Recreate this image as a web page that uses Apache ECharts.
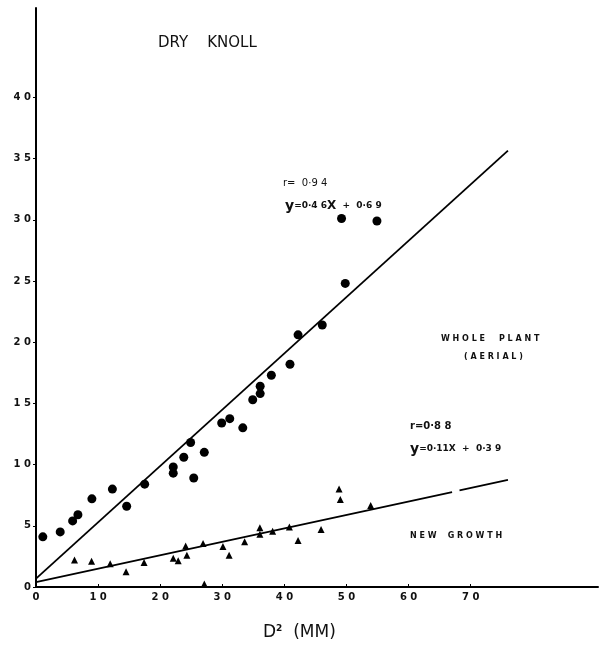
<!DOCTYPE html>
<html>
<head>
<meta charset="utf-8">
<script src="https://cdn.jsdelivr.net/npm/echarts@6/dist/echarts.min.js"></script>
<style>
  html, body { margin: 0; padding: 0; background: #fff; }
  #chart { width: 609px; height: 654px; }
</style>
</head>
<body>
<div id="chart"></div>
<script>
// Whole plant (aerial) dry weight against D²
const wholeX = [1.1, 3.9, 5.9, 6.75, 9.0, 12.3, 14.6, 17.5, 22.1, 22.1, 23.8, 24.9, 25.4, 27.1,
                29.9, 31.2, 33.3, 34.9, 36.1, 36.1, 37.9, 40.9, 42.2, 46.1, 49.8, 49.2, 54.9];
const wholeY = [4.1, 4.5, 5.4, 5.9, 7.2, 8.0, 6.6, 8.4, 9.8, 9.3, 10.6, 11.8, 8.9, 11.0,
                13.4, 13.75, 13.0, 15.3, 15.8, 16.4, 17.3, 18.2, 20.6, 21.4, 24.8, 30.1, 29.9];

// New growth against D²
const newX = [6.2, 8.95, 11.95, 14.5, 17.4, 22.1, 22.9, 24.1, 24.3, 26.9, 27.1, 30.1, 31.1,
              33.6, 36.05, 36.05, 38.1, 40.8, 42.2, 45.9, 48.8, 49.0, 53.9];
const newY = [2.2, 2.1, 1.9, 1.25, 2.0, 2.35, 2.15, 3.35, 2.6, 3.55, 0.25, 3.3, 2.6,
              3.7, 4.85, 4.3, 4.55, 4.9, 3.8, 4.7, 8.0, 7.15, 6.65];

// Fitted lines: y = slope * X + intercept
const wholeFit = { slope: 0.46, intercept: 0.69 };
const newFit = { slope: 0.11, intercept: 0.39 };
const wholeFitX = [0, 76];
const newFitX = [0, 67.0, null, 68.2, 76];   // short break in the drawn line

// Axis ticks
const xTicks = [0, 10, 20, 30, 40, 50, 60, 70];
const yTicks = [0, 5, 10, 15, 20, 25, 30, 35, 40];

const pairs = (xs, ys) => xs.map((x, i) => [x, ys[i]]);
const fitLine = (xs, f) => xs.map(x => x === null ? [null, null] : [x, f.slope * x + f.intercept]);
const spaced = v => String(v).split('').join(' ');

const chart = echarts.init(document.getElementById('chart'), null, { renderer: 'canvas' });

const small = { fontFamily: 'DejaVu Sans', fontSize: 8, fontWeight: 'bold', fill: '#111' };

chart.setOption({
  animation: false,
  backgroundColor: '#fff',
  grid: { left: 36, right: 11, top: 8, bottom: 67, containLabel: false },
  xAxis: {
    type: 'value', min: 0, max: 90.5,
    splitLine: { show: false },
    axisLine: { lineStyle: { color: '#000', width: 2 } },
    axisTick: { show: true, inside: true, length: 3, customValues: xTicks, lineStyle: { color: '#000' } },
    axisLabel: {
      customValues: xTicks, margin: 5,
      fontFamily: 'DejaVu Sans', fontSize: 10, fontWeight: 'bold', color: '#111',
      formatter: v => spaced(v)
    }
  },
  yAxis: {
    type: 'value', min: 0, max: 47.3,
    splitLine: { show: false },
    axisLine: { lineStyle: { color: '#000', width: 2 } },
    axisTick: { show: true, length: 3, customValues: yTicks, lineStyle: { color: '#000' } },
    axisLabel: {
      customValues: yTicks, margin: 5,
      fontFamily: 'DejaVu Sans', fontSize: 10, fontWeight: 'bold', color: '#111',
      formatter: v => spaced(v)
    }
  },
  series: [
    {
      type: 'line', data: fitLine(wholeFitX, wholeFit), showSymbol: false,
      lineStyle: { color: '#000', width: 1.8 }, z: 2
    },
    {
      type: 'line', data: fitLine(newFitX, newFit), showSymbol: false, connectNulls: false,
      lineStyle: { color: '#000', width: 1.8 }, z: 2
    },
    {
      type: 'scatter', data: pairs(wholeX, wholeY), symbol: 'circle', symbolSize: 9,
      itemStyle: { color: '#000', opacity: 1 }, z: 3
    },
    {
      type: 'scatter', data: pairs(newX, newY), symbol: 'triangle', symbolSize: 7,
      itemStyle: { color: '#000', opacity: 1 }, z: 3
    }
  ],
  graphic: [
    { type: 'text', left: 158, top: 36,
      style: { text: 'DRY    KNOLL', fontFamily: 'DejaVu Sans', fontSize: 15, fill: '#111' } },
    { type: 'text', left: 283, top: 178,
      style: { text: 'r=  0·9 4', fontFamily: 'DejaVu Sans', fontSize: 10, fill: '#111' } },
    { type: 'text', left: 285, top: 199,
      style: {
        text: '{big|y}{s|=0·4 6}{m|X}{s|  +  0·6 9}',
        rich: {
          big: { fontFamily: 'DejaVu Sans', fontSize: 14, fontWeight: 'bold', fill: '#111' },
          s: { fontFamily: 'DejaVu Sans', fontSize: 9, fontWeight: 'bold', fill: '#111' },
          m: { fontFamily: 'DejaVu Sans', fontSize: 12, fontWeight: 'bold', fill: '#111' }
        }
      } },
    { type: 'text', left: 441, top: 335,
      style: Object.assign({ text: 'W H O L E     P L A N T' }, small) },
    { type: 'text', left: 464, top: 353,
      style: Object.assign({ text: '( A E R I A L )' }, small) },
    { type: 'text', left: 410, top: 421,
      style: { text: 'r=0·8 8', fontFamily: 'DejaVu Sans', fontSize: 10, fontWeight: 'bold', fill: '#111' } },
    { type: 'text', left: 410, top: 442,
      style: {
        text: '{big|y}{s|=0·11X  +  0·3 9}',
        rich: {
          big: { fontFamily: 'DejaVu Sans', fontSize: 14, fontWeight: 'bold', fill: '#111' },
          s: { fontFamily: 'DejaVu Sans', fontSize: 9, fontWeight: 'bold', fill: '#111' }
        }
      } },
    { type: 'text', left: 410, top: 532,
      style: Object.assign({ text: 'N E W    G R O W T H' }, small) },
    { type: 'text', left: 263, top: 624,
      style: {
        text: '{d|D}{sup|2}{d|  (MM)}',
        rich: {
          d: { fontFamily: 'DejaVu Sans', fontSize: 17, fill: '#111' },
          sup: { fontFamily: 'DejaVu Sans', fontSize: 9, fontWeight: 'bold', fill: '#111', verticalAlign: 'top', padding: [0, 0, 8, 0] }
        }
      } }
  ]
});
</script>
</body>
</html>
